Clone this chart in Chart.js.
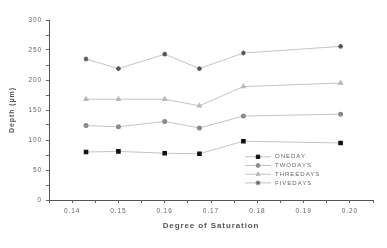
<!DOCTYPE html>
<html lang="en">
<head>
  <meta charset="UTF-8">
  <title>Depth vs Degree of Saturation</title>
  <script src="https://cdn.jsdelivr.net/npm/chart.js"></script>
  <style>
    html, body {
      margin: 0;
      padding: 0;
      background: #fff;
    }
    canvas {
      display: block;
    }
  </style>
</head>
<body>

<canvas id="chart" width="387" height="248"></canvas>

<script>
  // values
  const saturation = [0.143, 0.150, 0.160, 0.1675, 0.177, 0.198];
  const oneDay    = [80, 81, 78, 77, 98, 95];
  const twoDays   = [124, 122, 131, 120, 140, 143];
  const threeDays = [168, 168, 168, 157, 189, 195];
  const fiveDays  = [235, 219, 243, 219, 245, 256];
  const seriesNames = ["ONEDAY", "TWODAYS", "THREEDAYS", "FIVEDAYS"];

  const toPoints = vals => vals.map((v, i) => ({ x: saturation[i], y: v }));

  const styles = [
    { point: 'rect',     color: '#111111', radius: 2.4 },
    { point: 'circle',   color: '#8a8a8a', radius: 1.9 },
    { point: 'triangle', color: '#b8b8b8', radius: 2.3 },
    { point: 'star',     color: '#555555', radius: 2.4 }
  ];
  const seriesData = [oneDay, twoDays, threeDays, fiveDays];

  const datasets = seriesData.map((vals, i) => ({
    label: seriesNames[i],
    data: toPoints(vals),
    borderColor: '#c4c4c4',
    borderWidth: 1,
    pointStyle: styles[i].point,
    pointRadius: styles[i].radius,
    pointBackgroundColor: styles[i].color,
    pointBorderColor: styles[i].color,
    pointBorderWidth: 1.2,
    tension: 0
  }));

  // spaced-out text like the scanned figure
  const spacing = {
    id: 'spacing',
    beforeDraw(chart) {
      chart.ctx.letterSpacing = '0.9px';
    }
  };

  // legend drawn inside the plot area
  const innerLegend = {
    id: 'innerLegend',
    afterDraw(chart) {
      const ctx = chart.ctx;
      const a = chart.chartArea;
      const x0 = a.left + 0.605 * (a.right - a.left);
      const y0 = a.top + 0.76 * (a.bottom - a.top);
      ctx.save();
      ctx.letterSpacing = '1px';
      ctx.font = '6px "Liberation Sans"';
      ctx.textBaseline = 'middle';
      chart.data.datasets.forEach((ds, i) => {
        const y = y0 + i * 8.7;
        ctx.strokeStyle = ds.borderColor;
        ctx.lineWidth = 1;
        ctx.beginPath();
        ctx.moveTo(x0, y);
        ctx.lineTo(x0 + 26, y);
        ctx.stroke();
        ctx.fillStyle = ds.pointBackgroundColor;
        ctx.strokeStyle = ds.pointBorderColor;
        Chart.helpers.drawPoint(ctx, { pointStyle: ds.pointStyle, radius: ds.pointRadius, borderWidth: 1.2 }, x0 + 13, y);
        ctx.fillStyle = '#666';
        ctx.fillText(ds.label, x0 + 30, y);
      });
      ctx.restore();
    }
  };

  new Chart(document.getElementById('chart'), {
    type: 'line',
    data: { datasets: datasets },
    plugins: [spacing, innerLegend],
    options: {
      responsive: false,
      animation: false,
      layout: { padding: { top: 20, right: 14, bottom: 17, left: 6 } },
      plugins: {
        legend: { display: false },
        tooltip: { enabled: false }
      },
      scales: {
        x: {
          type: 'linear',
          min: 0.135,
          max: 0.205,
          afterFit: s => { s.height = 31; },
          border: { color: '#555', width: 1 },
          grid: { drawOnChartArea: false, tickLength: 3, color: '#666' },
          ticks: {
            stepSize: 0.005,
            autoSkip: false,
            maxRotation: 0,
            padding: 4,
            color: '#666',
            font: { family: 'Liberation Sans', size: 6.5 },
            callback: v => (Math.round(v * 200) % 2 === 0 ? v.toFixed(2) : '')
          },
          title: {
            display: true,
            text: 'Degree of Saturation',
            color: '#555',
            padding: { top: 3, bottom: 0 },
            font: { family: 'Liberation Sans', size: 8, weight: 'bold' }
          }
        },
        y: {
          min: 0,
          max: 300,
          afterFit: s => { s.width = 43; },
          border: { color: '#555', width: 1 },
          grid: { drawOnChartArea: false, tickLength: 3, color: '#666' },
          ticks: {
            stepSize: 25,
            autoSkip: false,
            padding: 4,
            color: '#666',
            font: { family: 'Liberation Sans', size: 6.5 },
            callback: v => (v % 50 === 0 ? v : '')
          },
          title: {
            display: true,
            text: 'Depth (μm)',
            color: '#555',
            padding: { top: 2, bottom: 2 },
            font: { family: 'Liberation Sans', size: 7, weight: 'bold' }
          }
        }
      }
    }
  });
</script>

</body>
</html>
